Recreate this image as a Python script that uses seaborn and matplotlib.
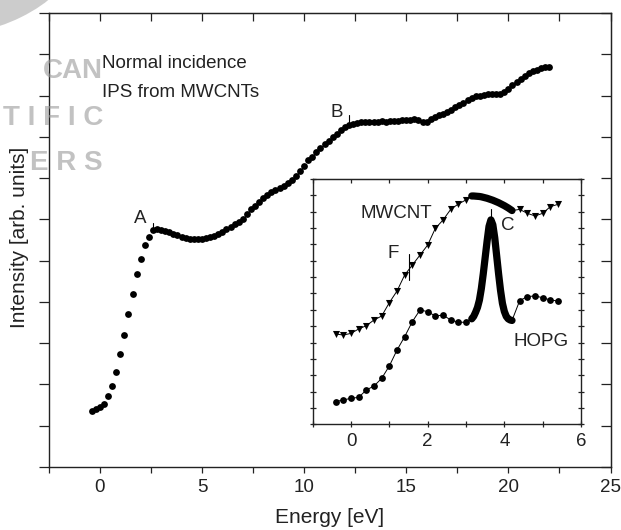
import numpy as np
import pandas as pd
import matplotlib
matplotlib.use("Agg")
import matplotlib.pyplot as plt
from matplotlib.ticker import MultipleLocator, NullFormatter
from matplotlib.patches import Ellipse
import seaborn as sns

# === Main spectrum: IPS from MWCNTs, normal incidence ===
energy = [
    -0.4, -0.2, 0.0, 0.2, 0.4, 0.6, 0.8, 1.0, 1.2, 1.4, 1.6, 1.8, 2.0, 2.2, 2.4,
    2.6, 2.8, 3.0, 3.2, 3.4, 3.6, 3.8, 4.0, 4.2, 4.4, 4.6, 4.8, 5.0, 5.2, 5.4,
    5.6, 5.8, 6.0, 6.2, 6.4, 6.6, 6.8, 7.0, 7.2, 7.4, 7.6, 7.8, 8.0, 8.2, 8.4,
    8.6, 8.8, 9.0, 9.2, 9.4, 9.6, 9.8, 10.0, 10.2, 10.4, 10.6, 10.8, 11.0, 11.2,
    11.4, 11.6, 11.8, 12.0, 12.2, 12.4, 12.6, 12.8, 13.0, 13.2, 13.4, 13.6, 13.8,
    14.0, 14.2, 14.4, 14.6, 14.8, 15.0, 15.2, 15.4, 15.6, 15.8, 16.0, 16.2, 16.4,
    16.6, 16.8, 17.0, 17.2, 17.4, 17.6, 17.8, 18.0, 18.2, 18.4, 18.6, 18.8, 19.0,
    19.2, 19.4, 19.6, 19.8, 20.0, 20.2, 20.4, 20.6, 20.8, 21.0, 21.2, 21.4, 21.6,
    21.8, 22.0,
]
intensity = [
    1.36, 1.40, 1.46, 1.53, 1.72, 1.97, 2.31, 2.74, 3.19, 3.70, 4.18, 4.68, 5.05, 5.39, 5.58,
    5.74, 5.76, 5.75, 5.72, 5.69, 5.65, 5.61, 5.57, 5.54, 5.53, 5.52, 5.53, 5.53, 5.55, 5.57,
    5.60, 5.64, 5.70, 5.76, 5.82, 5.88, 5.94, 6.02, 6.12, 6.24, 6.32, 6.42, 6.52, 6.59, 6.66,
    6.71, 6.76, 6.82, 6.89, 6.95, 7.05, 7.17, 7.30, 7.43, 7.52, 7.63, 7.72, 7.82, 7.91,
    7.99, 8.08, 8.16, 8.24, 8.29, 8.32, 8.34, 8.35, 8.35, 8.36, 8.37, 8.37, 8.38,
    8.37, 8.38, 8.38, 8.39, 8.40, 8.41, 8.41, 8.42, 8.40, 8.36, 8.36, 8.42, 8.48,
    8.52, 8.56, 8.61, 8.66, 8.72, 8.78, 8.82, 8.90, 8.95, 8.98, 9.00, 9.02, 9.03,
    9.04, 9.04, 9.04, 9.08, 9.17, 9.25, 9.33, 9.41, 9.48, 9.54, 9.59, 9.63, 9.66,
    9.68, 9.70,
]

# === Inset: MWCNT vs HOPG ===
inset_e = [-0.4, -0.2, 0.0, 0.2, 0.4, 0.6, 0.8, 1.0, 1.2, 1.4, 1.6, 1.8,
           2.0, 2.2, 2.4, 2.6, 2.8, 3.0, 4.4, 4.6, 4.8, 5.0, 5.2, 5.4]
mwcnt = [5.52, 5.46, 5.56, 5.83, 6.03, 6.38, 6.62, 7.44, 8.15, 9.13, 9.74, 10.35,
         10.96, 11.98, 12.49, 13.14, 13.47, 13.72, 13.14, 12.90, 12.74, 12.90, 13.31, 13.45]
hopg = [1.39, 1.49, 1.59, 1.65, 2.10, 2.34, 2.81, 3.57, 4.54, 5.36, 6.28, 6.99,
        6.89, 6.62, 6.68, 6.38, 6.24, 6.24, 7.56, 7.81, 7.85, 7.74, 7.60, 7.54]

# densely sampled region (3.15 - 4.2 eV)
dense_e = [3.15, 3.20, 3.25, 3.30, 3.35, 3.40, 3.45, 3.50, 3.55, 3.60, 3.65,
           3.70, 3.75, 3.80, 3.85, 3.90, 3.95, 4.00, 4.05, 4.10, 4.15, 4.20]
mwcnt_dense = [13.96, 13.96, 13.95, 13.94, 13.93, 13.91, 13.88, 13.85, 13.82, 13.78, 13.74,
               13.70, 13.65, 13.60, 13.55, 13.49, 13.43, 13.37, 13.30, 13.23, 13.15, 13.07]
hopg_dense = [6.45, 6.60, 6.85, 7.15, 7.60, 8.30, 9.20, 10.20, 11.20, 12.10, 12.50,
              12.20, 11.40, 10.30, 9.20, 8.20, 7.40, 6.90, 6.60, 6.45, 6.38, 6.35]

sns.set_style("ticks")
plt.rcParams["font.family"] = ["Liberation Sans", "DejaVu Sans"]
INK = "#222222"

fig = plt.figure(figsize=(6.21, 5.30), dpi=100)
ax = fig.add_axes([0.0785, 0.1189, 0.9046, 0.8566])

sns.scatterplot(x=energy, y=intensity, ax=ax, color="k", s=24, linewidth=0, zorder=3)

ax.set_xlim(-2.5, 25)
ax.set_ylim(0, 11)
ax.xaxis.set_major_locator(MultipleLocator(5))
ax.xaxis.set_minor_locator(MultipleLocator(2.5))
ax.yaxis.set_major_locator(MultipleLocator(1))
ax.yaxis.set_major_formatter(NullFormatter())
ax.tick_params(axis="x", which="both", direction="out", length=4, width=0.9,
               labelsize=13.5, pad=5, colors=INK)
ax.tick_params(axis="y", which="both", direction="out", length=7, width=0.9, colors=INK)
for s in ax.spines.values():
    s.set_linewidth(1.0)
    s.set_color(INK)

# top / right ticks point inward
top = ax.secondary_xaxis("top")
top.xaxis.set_major_locator(MultipleLocator(2.5))
top.tick_params(direction="in", length=6, width=0.9, labeltop=False, colors=INK)
right = ax.secondary_yaxis("right")
right.yaxis.set_major_locator(MultipleLocator(1))
right.tick_params(direction="in", length=7, width=0.9, labelright=False, colors=INK)

ax.set_xlabel("Energy [eV]", fontsize=15, color=INK)
ax.set_ylabel("Intensity [arb. units]", fontsize=15, color=INK)
ax.xaxis.set_label_coords(0.5, -0.090)
ax.yaxis.set_label_coords(-0.036, 0.505)

ax.text(0.13, 9.67, "Normal incidence", fontsize=13.5, va="baseline", color=INK)
ax.text(0.13, 8.97, "IPS from MWCNTs", fontsize=13.5, va="baseline", color=INK)
ax.text(2.3, 5.92, "A", fontsize=13.5, ha="right", va="baseline", color=INK)
ax.plot([2.6, 2.6], [5.74, 5.92], color="k", lw=0.8)
ax.text(11.9, 8.49, "B", fontsize=13.5, ha="right", va="baseline", color=INK)
ax.plot([12.2, 12.2], [8.29, 8.53], color="k", lw=0.8)

# === inset ===
axin = fig.add_axes([0.5035, 0.1994, 0.4321, 0.4629])
mw = pd.DataFrame({"e": inset_e + dense_e, "y": mwcnt + mwcnt_dense}).sort_values("e")
hg = pd.DataFrame({"e": inset_e + dense_e, "y": hopg + hopg_dense}).sort_values("e")

sns.lineplot(data=mw, x="e", y="y", ax=axin, color="k", lw=0.7, estimator=None)
sns.lineplot(data=hg, x="e", y="y", ax=axin, color="k", lw=0.7, estimator=None)
sns.scatterplot(x=inset_e, y=mwcnt, ax=axin, color="k", marker="v", s=26, linewidth=0, zorder=3)
sns.scatterplot(x=inset_e, y=hopg, ax=axin, color="k", marker="o", s=24, linewidth=0, zorder=3)
sns.lineplot(x=dense_e, y=mwcnt_dense, ax=axin, color="k", lw=5.2,
             solid_capstyle="round", estimator=None, zorder=3)
sns.lineplot(x=dense_e, y=hopg_dense, ax=axin, color="k", lw=5.2,
             solid_capstyle="round", estimator=None, zorder=3)

axin.set_xlim(-1, 6)
axin.set_ylim(0, 15)
axin.set_xlabel("")
axin.set_ylabel("")
axin.xaxis.set_major_locator(MultipleLocator(2))
axin.xaxis.set_minor_locator(MultipleLocator(1))
axin.yaxis.set_major_locator(MultipleLocator(1))
axin.yaxis.set_major_formatter(NullFormatter())
axin.tick_params(axis="x", which="both", direction="inout", length=4, width=0.9,
                 labelsize=13.5, pad=4, colors=INK)
axin.tick_params(axis="y", which="both", direction="inout", length=5, width=0.9,
                 right=True, colors=INK)
for s in axin.spines.values():
    s.set_linewidth(1.0)
    s.set_color(INK)
intop = axin.secondary_xaxis("top")
intop.xaxis.set_major_locator(MultipleLocator(1))
intop.tick_params(direction="in", length=3, width=0.9, labeltop=False, colors=INK)

axin.text(2.12, 12.6, "MWCNT", fontsize=13.5, ha="right", va="baseline", color=INK)
axin.text(1.26, 10.15, "F", fontsize=13.5, ha="right", va="baseline", color=INK)
axin.plot([1.5, 1.5], [8.83, 10.4], color="k", lw=0.8)
axin.text(3.92, 11.88, "C", fontsize=13.5, ha="left", va="baseline", color=INK)
axin.plot([3.66, 3.66], [12.29, 13.15], color="k", lw=0.8)
axin.text(4.23, 4.79, "HOPG", fontsize=13.5, ha="left", va="baseline", color=INK)

# faint publisher watermark fragments in the corner
fig.patches.append(Ellipse((0.015, 1.0), 0.20, 0.075, angle=30, transform=fig.transFigure,
                           color="#9a9a9a", alpha=0.5, lw=0))
for word, yb in [("CAN", 0.853), ("T I F I C", 0.764), ("E R S", 0.679)]:
    fig.text(0.166, yb, word, fontsize=20, fontweight="bold", color="#9a9a9a",
             alpha=0.6, ha="right", va="baseline")

fig.savefig("out.png", dpi=100)
plt.close(fig)
